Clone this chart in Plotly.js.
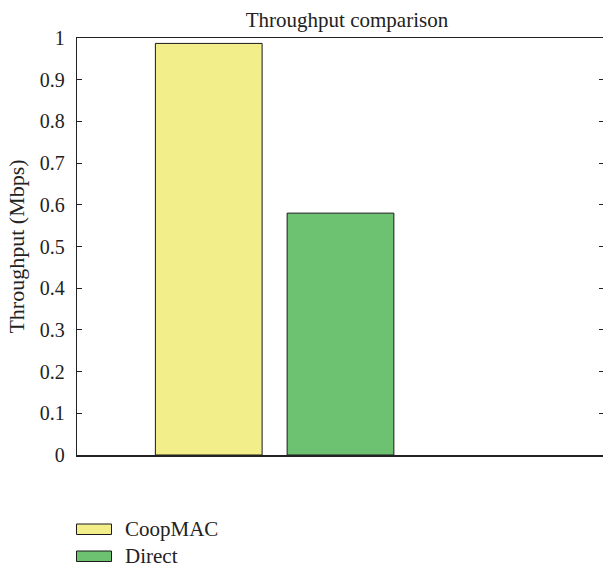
<!DOCTYPE html>
<html>
<head>
<meta charset="utf-8">
<script src="https://cdn.plot.ly/plotly-3.0.1.min.js"></script>
<style>
  html, body { margin: 0; padding: 0; overflow: hidden; background: #fff; }
  #chart { width: 606px; height: 567px; }
</style>
</head>
<body>
<div id="chart"></div>
<script>
// Throughput of the two access schemes (Mbps)
const schemes = ["CoopMAC", "Direct"];
const throughput = [0.987, 0.58];
const barColors = ["#F2EE8A", "#6CC271"];
const yTicks = [0, 0.1, 0.2, 0.3, 0.4, 0.5, 0.6, 0.7, 0.8, 0.9, 1];
const yTickText = ["0", "0.1", "0.2", "0.3", "0.4", "0.5", "0.6", "0.7", "0.8", "0.9", "1"];

const W = 606, H = 567;
const M = { l: 77, r: 2, t: 38, b: 112 };
const plotW = W - M.l - M.r, plotH = H - M.t - M.b;
const FONT = "Liberation Serif";

// pixel -> paper helpers for the hand-placed legend
const px2x = px => (px - M.l) / plotW;
const px2y = py => (H - M.b - py) / plotH;

const traces = schemes.map((name, i) => ({
  type: "bar",
  name: name,
  x: [i + 1],
  y: [throughput[i]],
  width: 0.81,
  marker: { color: barColors[i], line: { color: "#1a1a1a", width: 1 } },
  showlegend: false,
  hoverinfo: "skip"
}));

// legend: wide swatches stacked under the plot
const shapes = [];
const annotations = [];
schemes.forEach((name, i) => {
  const top = 524 + i * 27;
  shapes.push({
    type: "rect", xref: "paper", yref: "paper",
    x0: px2x(76.5), x1: px2x(111.5), y0: px2y(top), y1: px2y(top + 10.5),
    fillcolor: barColors[i], line: { color: "#1a1a1a", width: 1 }
  });
  annotations.push({
    xref: "paper", yref: "paper",
    x: px2x(123), y: px2y(top + 5),
    xanchor: "left", yanchor: "middle",
    text: name, showarrow: false,
    font: { family: FONT, size: 21, color: "#222" }
  });
});

const layout = {
  width: W, height: H,
  margin: M,
  paper_bgcolor: "#fff", plot_bgcolor: "#fff",
  barmode: "overlay",
  showlegend: false,
  font: { family: FONT, color: "#222" },
  title: {
    text: "Throughput comparison",
    font: { family: FONT, size: 21, color: "#222" },
    xref: "container", x: 347 / W, xanchor: "center",
    yref: "container", y: 1 - 20 / H, yanchor: "middle"
  },
  xaxis: {
    range: [0, 4],
    showline: true, mirror: true, linecolor: "#222", linewidth: 1.5,
    showgrid: false, zeroline: false,
    ticks: "", showticklabels: false, fixedrange: true
  },
  yaxis: {
    range: [0, 1],
    tickvals: yTicks, ticktext: yTickText,
    showline: true, mirror: "ticks", linecolor: "#222", linewidth: 1.3,
    ticks: "inside", ticklen: 5, tickwidth: 1, tickcolor: "#222",
    ticklabelstandoff: 7,
    showgrid: false, zeroline: false,
    tickfont: { family: FONT, size: 20, color: "#222" },
    title: {
      text: "Throughput (Mbps)",
      font: { family: FONT, size: 22, color: "#222" },
      standoff: 9
    },
    fixedrange: true
  },
  shapes: shapes,
  annotations: annotations
};

Plotly.newPlot("chart", traces, layout, { displayModeBar: false, staticPlot: true });
</script>
</body>
</html>
